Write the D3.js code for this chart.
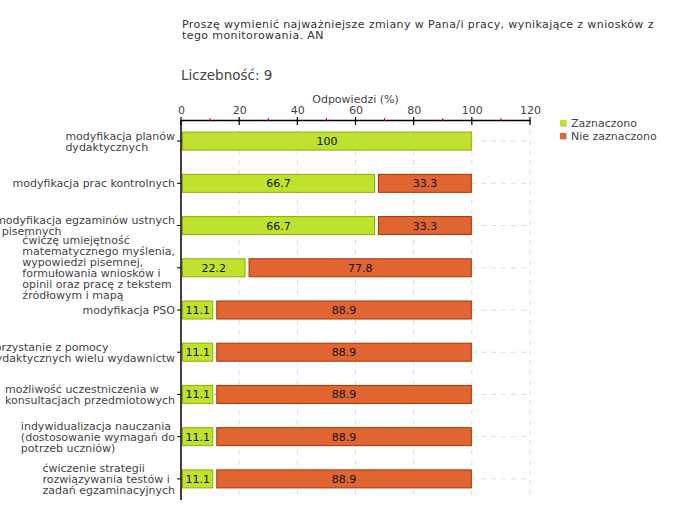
<!DOCTYPE html>
<html><head><meta charset="utf-8">
<script src="https://cdn.jsdelivr.net/npm/d3@7/dist/d3.min.js"></script>
<style>body{margin:0;background:#fff}svg{display:block}text{font-family:"DejaVu Sans",Verdana,sans-serif}</style>
</head><body><svg id="c" width="680" height="520"></svg>
<script>
const title = ["Proszę wymienić najważniejsze zmiany w Pana/i pracy, wynikające z wniosków z", "tego monitorowania. AN"];
const countLabel = "Liczebność: 9";
const axisTitle = "Odpowiedzi (%)";
const categories = [
  ["modyfikacja planów", "dydaktycznych"],
  ["modyfikacja prac kontrolnych"],
  ["modyfikacja egzaminów ustnych", "i pisemnych"],
  ["ćwiczę umiejętność", "matematycznego myślenia,", "wypowiedzi pisemnej,", "formułowania wniosków i", "opinii oraz pracę z tekstem", "źródłowym i mapą"],
  ["modyfikacja PSO"],
  ["korzystanie z pomocy", "dydaktycznych wielu wydawnictw"],
  ["możliwość uczestniczenia w", "konsultacjach przedmiotowych"],
  ["indywidualizacja nauczania", "(dostosowanie wymagań do", "potrzeb uczniów)"],
  ["ćwiczenie strategii", "rozwiązywania testów i", "zadań egzaminacyjnych"]
];
const seriesNames = ["Zaznaczono", "Nie zaznaczono"];
const zaznaczono = [100, 66.7, 66.7, 22.2, 11.1, 11.1, 11.1, 11.1, 11.1];
const nieZaznaczono = [0, 33.3, 33.3, 77.8, 88.9, 88.9, 88.9, 88.9, 88.9];
const majorTicks = [0, 20, 40, 60, 80, 100, 120];
const minorTicks = [10, 30, 50, 70, 90, 110];

const svg = d3.select("#c");
const x = d3.scaleLinear().domain([0, 120]).range([181, 530]);
const y = d3.scaleBand().domain(d3.range(categories.length)).range([120, 500]);
const barH = 19;
const fills = ["#bfe22f", "#e06531"], strokes = ["#8fae00", "#a93300"];

// title
svg.append("g").selectAll("text").data(title).join("text")
  .attr("x", 182).attr("y", (d, i) => 28 + i * 11).attr("font-size", 11).attr("letter-spacing", 0.4)
  .attr("fill", "#333").text(d => d);
svg.append("text").attr("x", 181).attr("y", 80).attr("font-size", 13.5).attr("fill", "#444").text(countLabel);
svg.append("text").attr("x", x(60)).attr("y", 103).attr("text-anchor", "middle").attr("font-size", 11).attr("fill", "#444").text(axisTitle);

// grid
const grid = svg.append("g").attr("stroke", "#dedede").attr("stroke-dasharray", "5,5");
grid.selectAll("line.v").data(majorTicks.slice(1)).join("line")
  .attr("x1", d => x(d)).attr("x2", d => x(d)).attr("y1", 120).attr("y2", 500);
grid.selectAll("line.h").data(categories).join("line")
  .attr("x1", x(0)).attr("x2", x(120)).attr("y1", (d, i) => y(i) + y.bandwidth() / 2).attr("y2", (d, i) => y(i) + y.bandwidth() / 2);

// top axis
const axis = d3.axisTop(x).tickValues(majorTicks).tickSize(0).tickPadding(6).tickFormat(d3.format("d"));
const ag = svg.append("g").attr("transform", "translate(0,120)").call(axis);
ag.select(".domain").attr("stroke", "#000").attr("stroke-width", 1.5);
ag.selectAll("text").attr("font-size", 11).attr("fill", "#444").attr("font-family", "DejaVu Sans, Verdana, sans-serif");
svg.append("g").selectAll("line").data(majorTicks).join("line")
  .attr("x1", d => x(d)).attr("x2", d => x(d)).attr("y1", 117).attr("y2", 125).attr("stroke", "#000").attr("stroke-width", 1.2);
svg.append("g").selectAll("line").data(minorTicks).join("line")
  .attr("x1", d => x(d)).attr("x2", d => x(d)).attr("y1", 118).attr("y2", 121).attr("stroke", "#e00000");

// bars
const rows = categories.map((c, i) => ({i, vals: [zaznaczono[i], nieZaznaczono[i]]}));
const bg = svg.append("g");
rows.forEach(r => {
  let start = 0;
  r.vals.forEach((v, s) => {
    if (v > 0) {
      const x0 = x(start) + (start === 0 ? 1 : 3), x1 = x(start + v);
      const cy = y(r.i) + y.bandwidth() / 2;
      bg.append("rect").attr("x", x0 + 0.5).attr("y", cy - barH / 2 + 0.5).attr("width", x1 - x0 - 1).attr("height", barH - 1)
        .attr("fill", fills[s]).attr("stroke", strokes[s]).attr("stroke-width", 1);
      bg.append("text").attr("x", (x0 + x1) / 2).attr("y", cy + 4).attr("text-anchor", "middle")
        .attr("font-size", 11).attr("fill", "#111").text(d3.format(".1~f")(v));
    }
    start += v;
  });
});

// left axis
svg.append("line").attr("x1", 181).attr("x2", 181).attr("y1", 120).attr("y2", 500).attr("stroke", "#000").attr("stroke-width", 1.5);
svg.append("g").selectAll("line").data(categories).join("line")
  .attr("x1", 177).attr("x2", 181).attr("y1", (d, i) => y(i) + y.bandwidth() / 2).attr("y2", (d, i) => y(i) + y.bandwidth() / 2)
  .attr("stroke", "#000");

// category labels
const lh = 11;
categories.forEach((lines, i) => {
  const cy = y(i) + y.bandwidth() / 2;
  const t = svg.append("text").attr("font-size", 11).attr("fill", "#444");
  lines.forEach((l, k) => t.append("tspan").attr("y", cy + 4 + (k - (lines.length - 1) / 2) * lh).text(l));
  let w = 0;
  t.selectAll("tspan").each(function () { w = Math.max(w, this.getComputedTextLength()); });
  t.selectAll("tspan").attr("x", 175 - w);
});

// legend
const lg = svg.append("g");
seriesNames.forEach((n, s) => {
  const ly = 123 + s * 13;
  lg.append("rect").attr("x", 561).attr("y", ly - 2).attr("width", 6).attr("height", 6).attr("fill", "#ccc");
  lg.append("rect").attr("x", 560).attr("y", ly - 3).attr("width", 6).attr("height", 6).attr("fill", fills[s]);
  lg.append("text").attr("x", 571).attr("y", ly + 4).attr("font-size", 11).attr("fill", "#444").text(n);
});
</script></body></html>
